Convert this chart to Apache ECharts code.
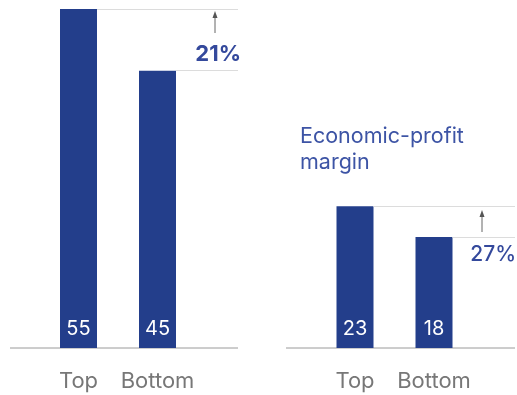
<!DOCTYPE html>
<html>
<head>
    <meta charset="utf-8">
    <title>ECharts</title>
    <script src="https://cdn.jsdelivr.net/npm/echarts@6/dist/echarts.min.js"></script>
    <style>
        html, body { margin: 0; padding: 0; background: #fff; }
        #chart { width: 517px; height: 395px; }
    </style>
</head>
<body>
    <div id="chart"></div>
    <script type="text/javascript">
        var categories = ['Top', 'Bottom'];
        var revenueValues = [55, 45];
        var marginValues = [23, 18];
        var changes = ['21%', '27%'];
        var marginTitle = 'Economic-profit\nmargin';

        var barColor = '#233e8b';
        var textBlue = '#34499c';
        var font = 'Inter, Liberation Sans, Arial, sans-serif';

        // layout of the two panels (pixels)
        var baseY = 348, gridTop = 9;
        var band = 79, barW = 37;
        var panels = [
            { gridLeft: 39, axisFrom: 10, axisTo: 238, arrowX: 215 },
            { gridLeft: 315.5, axisFrom: 286, axisTo: 515, arrowX: 482 }
        ];

        var chart = echarts.init(document.getElementById('chart'));

        function refLines(p, values) {
            var lines = [];
            values.forEach(function (v, i) {
                var right = p.gridLeft + band * (i + 0.5) + barW / 2;
                lines.push([{ x: right, yAxis: v }, { x: p.axisTo, yAxis: v }]);
            });
            return lines;
        }

        function makeSeries(idx, values) {
            var p = panels[idx];
            return {
                type: 'bar',
                xAxisIndex: idx,
                yAxisIndex: idx,
                data: values,
                barWidth: barW,
                clip: false,
                itemStyle: { color: barColor },
                label: {
                    show: true,
                    position: 'insideBottom',
                    distance: 9,
                    color: '#fff',
                    fontSize: 20,
                    fontFamily: font
                },
                markLine: {
                    silent: true,
                    symbol: 'none',
                    animation: false,
                    label: { show: false },
                    lineStyle: { color: '#dcdcdc', width: 1, type: 'solid' },
                    data: refLines(p, values)
                }
            };
        }

        var option = {
            animation: false,
            grid: panels.map(function (p) {
                return { left: p.gridLeft, width: band * 2, top: gridTop, bottom: 395 - baseY };
            }),
            xAxis: panels.map(function (p, i) {
                return {
                    type: 'category',
                    gridIndex: i,
                    data: categories,
                    axisLine: { show: false },
                    axisTick: { show: false },
                    axisLabel: { interval: 0, color: '#777', fontSize: 22, margin: 22, fontFamily: font }
                };
            }),
            yAxis: panels.map(function (p, i) {
                return { type: 'value', gridIndex: i, min: 0, max: 55, show: false, splitLine: { show: false } };
            }),
            series: [makeSeries(0, revenueValues), makeSeries(1, marginValues)],
            graphic: [
                // baselines
                { type: 'line', shape: { x1: panels[0].axisFrom, y1: baseY, x2: panels[0].axisTo, y2: baseY },
                  style: { stroke: '#9a9a9a', lineWidth: 1 } },
                { type: 'line', shape: { x1: panels[1].axisFrom, y1: baseY, x2: panels[1].axisTo, y2: baseY },
                  style: { stroke: '#9a9a9a', lineWidth: 1 } },
                // arrows
                { type: 'line', shape: { x1: panels[0].arrowX, y1: 33, x2: panels[0].arrowX, y2: 14 },
                  style: { stroke: '#666', lineWidth: 1 } },
                { type: 'polygon', shape: { points: [[panels[0].arrowX - 2.5, 18], [panels[0].arrowX, 11], [panels[0].arrowX + 2.5, 18]] },
                  style: { fill: '#555' } },
                { type: 'line', shape: { x1: panels[1].arrowX, y1: 232, x2: panels[1].arrowX, y2: 214 },
                  style: { stroke: '#666', lineWidth: 1 } },
                { type: 'polygon', shape: { points: [[panels[1].arrowX - 2.5, 217], [panels[1].arrowX, 210], [panels[1].arrowX + 2.5, 217]] },
                  style: { fill: '#555' } },
                // change labels
                { type: 'text', right: 517 - 241, top: 43,
                  style: { text: changes[0], fill: textBlue, font: 'bold 22px ' + font } },
                { type: 'text', right: 1, top: 244,
                  style: { text: changes[1], fill: textBlue, font: '500 21px ' + font } },
                // panel title
                { type: 'text', left: 300, top: 124,
                  style: { text: marginTitle, fill: '#3d54a5', font: '21.5px ' + font, lineHeight: 26 } }
            ]
        };

        chart.setOption(option);
    </script>
</body>
</html>
